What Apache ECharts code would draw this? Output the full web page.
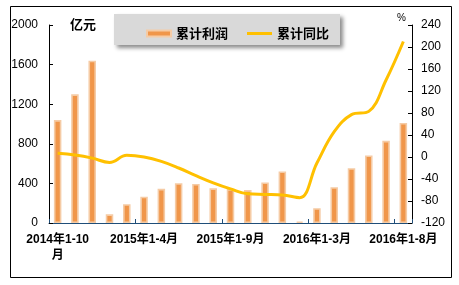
<!DOCTYPE html>
<html><head><meta charset="utf-8">
<script src="https://cdn.jsdelivr.net/npm/echarts@6/dist/echarts.min.js"></script>
<style>html,body{margin:0;padding:0;background:#fff}#c{width:459px;height:285px}</style>
</head><body><div id="c"></div>
<script>
const categories = ['2014年1-10月','2014年1-11月','2014年1-12月','2015年1-2月','2015年1-3月','2015年1-4月','2015年1-5月','2015年1-6月','2015年1-7月','2015年1-8月','2015年1-9月','2015年1-10月','2015年1-11月','2015年1-12月','2016年1-2月','2016年1-3月','2016年1-4月','2016年1-5月','2016年1-6月','2016年1-7月','2016年1-8月'];
const profit = [1040, 1300, 1640, 88, 190, 265, 345, 402, 395, 350, 343, 333, 410, 520, 15, 150, 362, 553, 682, 830, 1010];
const growth = [6.7, 3.6, -2, -10, 3, 0, -8, -20, -34, -47, -58, -67, -68, -69, -74, -11, 46, 77, 83, 140, 210];
const leftTicks = {min: 0, max: 2000, interval: 400};
const rightTicks = {min: -120, max: 240, interval: 40};
const FONT = "'Liberation Sans', Arial, 'Noto Sans CJK SC', sans-serif";
const CJK = "'Noto Sans CJK SC', sans-serif";

const chart = echarts.init(document.getElementById('c'), null, {renderer: 'canvas'});
chart.setOption({
  animation: false,
  textStyle: {fontFamily: FONT},
  graphic: [
    {type: 'rect', shape: {x: 10.5, y: 6.5, width: 441, height: 271}, style: {fill: 'none', stroke: '#000', lineWidth: 1}, z: 0},
    {type: 'rect', shape: {x: 114, y: 14, width: 226, height: 31}, style: {fill: '#D9D9D9', shadowColor: 'rgba(0,0,0,0.45)', shadowBlur: 4, shadowOffsetX: 3, shadowOffsetY: 3}, z: 1},
    {type: 'text', left: 70, top: 18, style: {text: '亿元', font: "bold 13px " + CJK, fill: '#000'}, z: 5},
    {type: 'text', left: 397, top: 13, style: {text: '%', font: "10px " + FONT, fill: '#000'}, z: 5}
  ],
  legend: [
    {left: 141, top: 22, itemWidth: 24, itemHeight: 6,
     textStyle: {fontSize: 13, fontWeight: 'bold', color: '#000', fontFamily: CJK},
     data: [{name: '累计利润', icon: 'rect'}], z: 10},
    {left: 242, top: 22, itemWidth: 25, itemHeight: 3,
     textStyle: {fontSize: 13, fontWeight: 'bold', color: '#000', fontFamily: CJK},
     data: [{name: '累计同比', icon: 'rect', itemStyle: {color: '#FFC000'}}], z: 10}
  ],
  grid: {left: 49, right: 47, top: 25, bottom: 62, containLabel: false},
  xAxis: {
    type: 'category', data: categories, boundaryGap: true,
    axisLine: {lineStyle: {color: '#1F4E79', width: 1}},
    axisTick: {show: true, inside: true, length: 4, lineStyle: {color: '#1F4E79'}},
    axisLabel: {
      interval: 4, margin: 9, fontSize: 12, fontWeight: 'bold', color: '#000', lineHeight: 16,
      formatter: (v, i) => i === 0 ? v.replace('1-10月', '1-10\n月') : v
    }
  },
  yAxis: [
    {type: 'value', min: leftTicks.min, max: leftTicks.max, interval: leftTicks.interval,
     axisLine: {show: true, lineStyle: {color: '#000'}},
     axisTick: {show: true, inside: true, length: 4, lineStyle: {color: '#000'}},
     splitLine: {show: false},
     axisLabel: {fontSize: 12, color: '#000', margin: 11, formatter: v => String(v)}},
    {type: 'value', min: rightTicks.min, max: rightTicks.max, interval: rightTicks.interval,
     axisLine: {show: true, lineStyle: {color: '#000'}},
     axisTick: {show: true, inside: true, length: 4, lineStyle: {color: '#000'}},
     splitLine: {show: false},
     axisLabel: {fontSize: 12, color: '#000', margin: 9, formatter: v => String(v)}}
  ],
  series: [
    {name: '累计利润', type: 'bar', yAxisIndex: 0, data: profit, barWidth: 7.5,
     itemStyle: {color: '#F0964A', borderColor: '#F5CBA5', borderWidth: 1.6}, z: 2},
    {name: '累计同比', type: 'line', yAxisIndex: 1, data: growth, smooth: 0.4,
     symbol: 'none', lineStyle: {color: '#FFC000', width: 3}, itemStyle: {color: '#FFC000'}, z: 3}
  ]
});
</script></body></html>
